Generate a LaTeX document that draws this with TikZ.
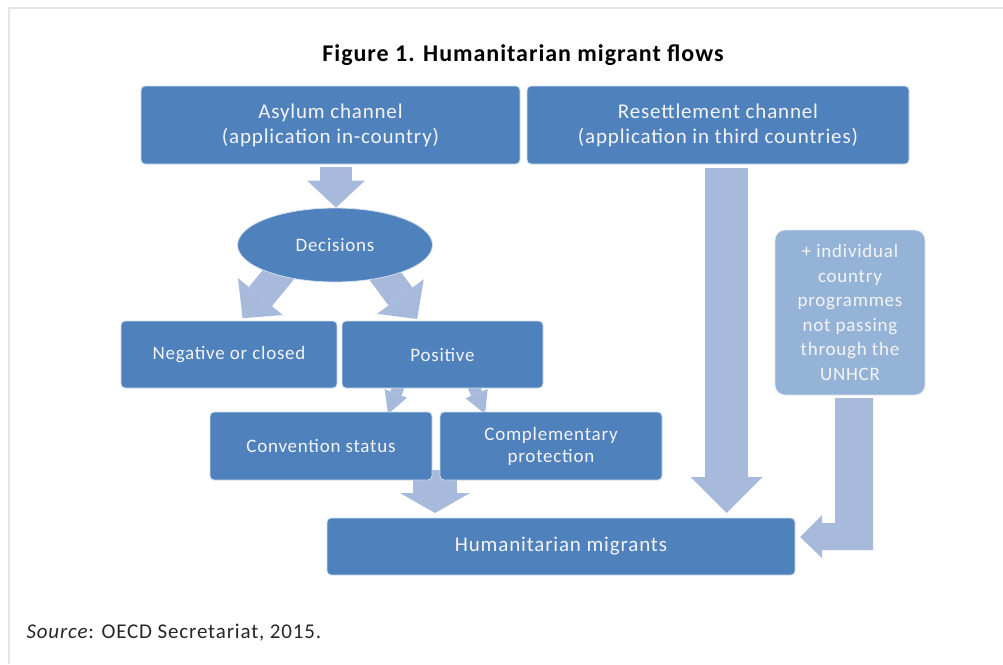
\documentclass[tikz,border=0pt]{standalone}
\usepackage{fontspec}
\setmainfont{Carlito}[LetterSpace=4]
\usetikzlibrary{shapes.geometric,arrows.meta,calc}
\definecolor{boxblue}{HTML}{4F81BD}
\definecolor{lightbox}{HTML}{95B3D7}
\definecolor{arrowblue}{HTML}{A7BADB}
\definecolor{frameg}{HTML}{E6E6E6}
\definecolor{txtw}{HTML}{F4F4F4}
\pgfdeclarelayer{bg}
\pgfsetlayers{bg,main}
\tikzset{
  blk/.style={fill=boxblue, draw=white!75!boxblue, line width=0.8pt, rounded corners=4pt,
    text=txtw, align=center, inner sep=0pt, font=\fontsize{19}{25}\selectfont},
  blockarrow/.style n args={3}{draw=arrowblue, line width=#1,
    -{Triangle[length=#3, width=#2, line width=0pt]}},
}
\begin{document}
\begin{tikzpicture}[x=1pt, y=-1pt]
\useasboundingbox (0,0) rectangle (1003,664);
\draw[frameg, line width=2pt] (9,664) -- (9,8) -- (1003,8);

\node[font=\bfseries\fontsize{24}{28}\selectfont] (title) at (523,55) {Figure 1. Humanitarian migrant flows};

\node[blk, minimum width=379pt, minimum height=78pt, font=\fontsize{21}{25}\selectfont] (asy) at (330.5,125) {Asylum channel\\(application in-country)};
\node[blk, minimum width=382pt, minimum height=78pt, font=\fontsize{21}{25}\selectfont] (res) at (718,125) {Resettlement channel\\(application in third countries)};
\node[blk, ellipse, minimum width=195pt, minimum height=74pt] (dec) at (335,245) {Decisions};
\node[blk, minimum width=216pt, minimum height=67pt] (neg) at (229,354.5) {Negative or closed};
\node[blk, minimum width=201pt, minimum height=67pt] (pos) at (442.5,354.5) {Positive};
\node[blk, minimum width=222pt, minimum height=68pt] (conv) at (321,446) {Convention status};
\node[blk, minimum width=222pt, minimum height=68pt, font=\fontsize{19}{22}\selectfont] (comp) at (551,446) {Complementary\\protection};
\node[blk, minimum width=468pt, minimum height=57pt, font=\fontsize{21}{24}\selectfont] (hum) at (561,546.5) {Humanitarian migrants};
\node[blk, fill=lightbox, draw=white!70!lightbox, minimum width=150pt, minimum height=165pt, rounded corners=10pt, font=\fontsize{19}{24.6}\selectfont] (unhcr) at (850,312.5) {+ individual\\country\\programmes\\not passing\\through the\\UNHCR};

\node[anchor=west, text=black!85, font=\fontsize{21}{24}\selectfont] (src) at (23,633) {\textit{Source}: OECD Secretariat, 2015.};

\coordinate (dl0) at (284.7,267);  \coordinate (dl1) at (242.6,318.2);
\coordinate (dr0) at (377.8,266);  \coordinate (dr1) at (417.2,319);
\coordinate (pl0) at (401,380);    \coordinate (pl1) at (388,414);
\coordinate (pr0) at (471,380);    \coordinate (pr1) at (485,414);
\coordinate (cb0) at (435,470);    \coordinate (cb1) at (435,513);
\coordinate (rs0) at (726.5,168);  \coordinate (rs1) at (726.5,513);

\begin{pgfonlayer}{bg}
  \draw[blockarrow={32pt}{58pt}{27pt}] ([xshift=5.5pt,yshift=-3pt]asy.south) -- ([xshift=1pt]dec.north);
  \draw[blockarrow={30pt}{58pt}{28pt}] (dl0) -- (dl1);
  \draw[blockarrow={30pt}{58pt}{28pt}] (dr0) -- (dr1);
  \draw[blockarrow={12pt}{24pt}{22pt}] (pl0) -- (pl1);
  \draw[blockarrow={12pt}{24pt}{22pt}] (pr0) -- (pr1);
  \draw[blockarrow={44pt}{70pt}{20pt}] (cb0) -- (cb1);
  \draw[blockarrow={43pt}{72pt}{36pt}] (rs0) -- (rs1);
  \fill[arrowblue] (835,398) -- (873,398) -- (873,550) -- (822,550) -- (822,558)
     -- (800,537) -- (822,515) -- (822,523) -- (835,523) -- cycle;
\end{pgfonlayer}
\end{tikzpicture}
\end{document}
